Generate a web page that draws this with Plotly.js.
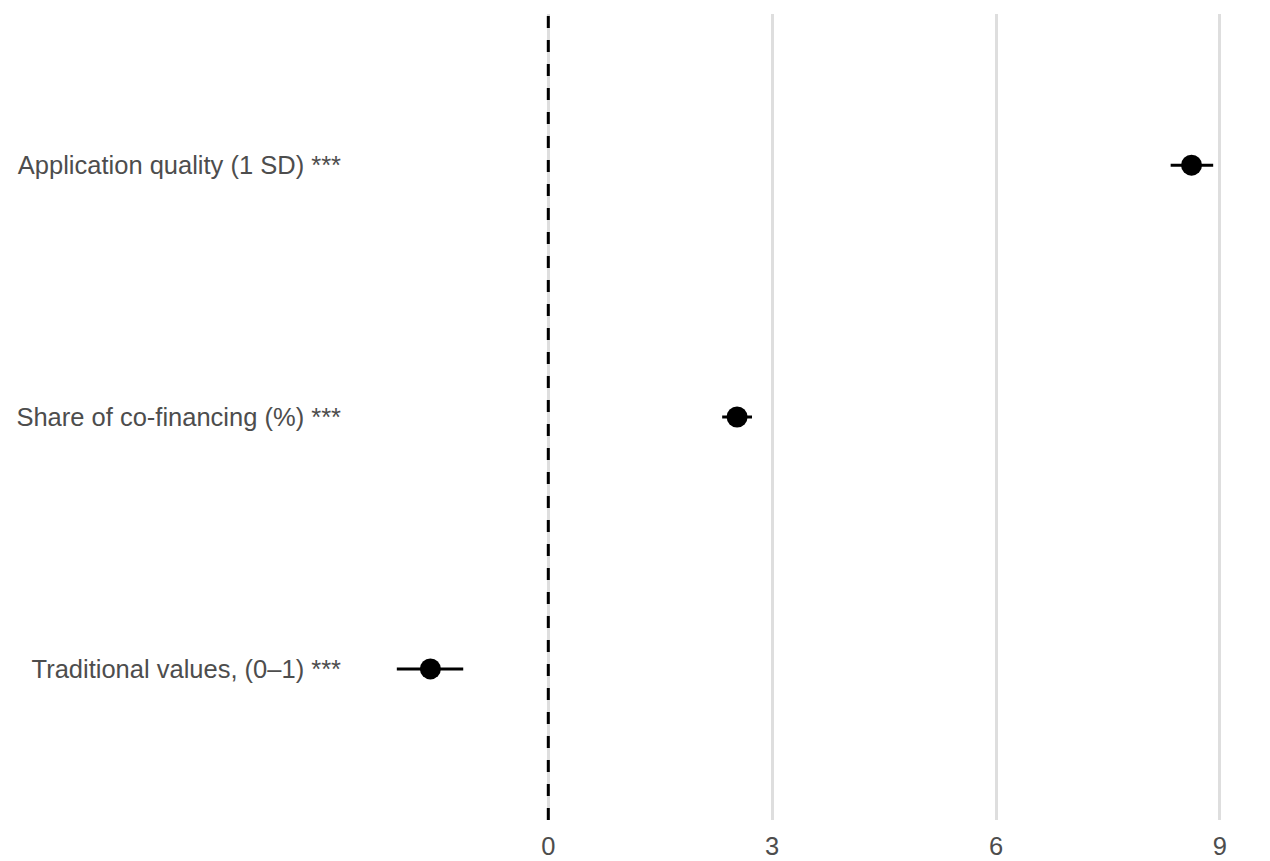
<!DOCTYPE html>
<html>
<head>
<meta charset="utf-8">
<script src="https://cdn.plot.ly/plotly-3.0.1.min.js"></script>
<style>
  html, body { margin: 0; padding: 0; background: #ffffff; }
  #chart { width: 1270px; height: 861px; }
</style>
</head>
<body>
<div id="chart"></div>
<script>
// Coefficient estimates with confidence intervals
const terms = [
    'Application quality (1 SD) ***',
    'Share of co-financing (%) ***',
    'Traditional values, (0\u20131) ***'
];
const estimates = [8.62, 2.53, -1.58];
const lowerCI = [8.34, 2.33, -2.03];
const upperCI = [8.91, 2.73, -1.14];
const xTicks = [0, 3, 6, 9];

const textColor = '#4d4d4d';
const fontFamily = '"Liberation Sans", Arial, Helvetica, sans-serif';

const trace = {
    type: 'scatter',
    mode: 'markers',
    x: estimates,
    y: terms,
    marker: { size: 21, color: '#000000' },
    error_x: {
        type: 'data',
        symmetric: false,
        array: upperCI.map((u, i) => u - estimates[i]),
        arrayminus: estimates.map((e, i) => e - lowerCI[i]),
        color: '#000000',
        thickness: 3,
        width: 0
    },
    hoverinfo: 'x+y',
    showlegend: false
};

// ggplot-style padding around the data range
const lo = Math.min(...lowerCI);
const hi = Math.max(...upperCI);
const pad = (hi - lo) * 0.05;

const layout = {
    width: 1270,
    height: 861,
    paper_bgcolor: '#ffffff',
    plot_bgcolor: '#ffffff',
    font: { family: fontFamily, size: 25.5, color: textColor },
    margin: { l: 356, r: 16, t: 14, b: 41 },
    showlegend: false,
    xaxis: {
        range: [lo - pad, hi + pad],
        tickmode: 'array',
        tickvals: xTicks,
        ticktext: xTicks.map(String),
        showgrid: true,
        gridcolor: '#dedede',
        gridwidth: 3,
        zeroline: false,
        showline: false,
        ticks: '',
        ticklabelstandoff: 8,
        tickfont: { size: 25.5, color: textColor }
    },
    yaxis: {
        type: 'category',
        categoryorder: 'array',
        categoryarray: terms,
        range: [terms.length - 0.4, -0.6],
        showgrid: false,
        zeroline: false,
        showline: false,
        ticks: '',
        ticklabelstandoff: 14,
        tickfont: { size: 25.5, color: textColor }
    },
    shapes: [{
        type: 'line',
        xref: 'x',
        yref: 'paper',
        x0: 0, x1: 0,
        y0: 0, y1: 1,
        line: { color: '#000000', width: 3, dash: '12px,12px' },
        layer: 'above'
    }]
};

Plotly.newPlot('chart', [trace], layout, { displayModeBar: false, staticPlot: true });
</script>
</body>
</html>
